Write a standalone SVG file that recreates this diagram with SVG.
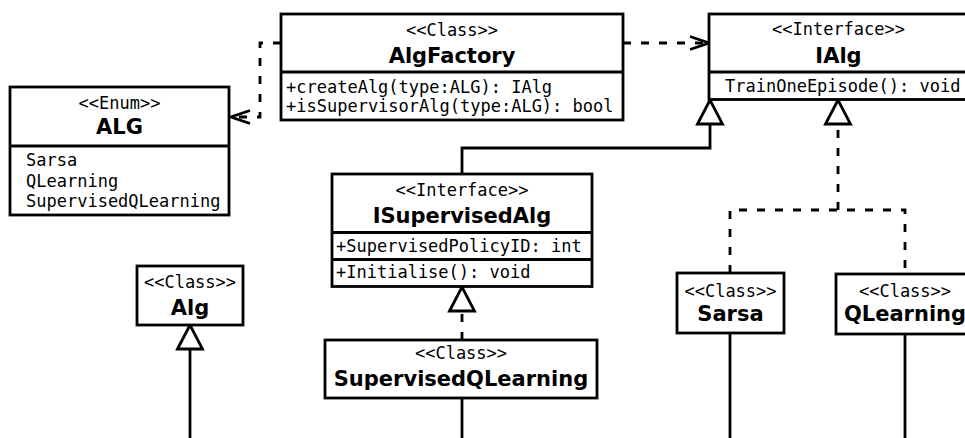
<svg xmlns="http://www.w3.org/2000/svg" width="965" height="438" viewBox="0 0 965 438">
  <style>
    .box { fill: #ffffff; stroke: #000000; stroke-width: 2.8; }
    .div { stroke: #000000; stroke-width: 2.8; fill: none; }
    .st { font-family: "DejaVu Sans Mono", "Liberation Mono", monospace; font-size: 17px; text-anchor: middle; fill: #000; }
    .nm { font-family: "DejaVu Sans", "Liberation Sans", sans-serif; font-weight: bold; font-size: 21px; text-anchor: middle; fill: #000; }
    .mb { font-family: "DejaVu Sans Mono", "Liberation Mono", monospace; font-size: 17px; fill: #000; }
    .solid { fill: none; stroke: #000; stroke-width: 2.8; }
    .dash { fill: none; stroke: #000; stroke-width: 2.8; stroke-dasharray: 8 10; }
    .dep { marker-end: url(#open); }
    .gen { marker-end: url(#tri); }
  </style>
  <defs>
    <!-- open arrowhead for dependencies -->
    <marker id="open" markerUnits="userSpaceOnUse" markerWidth="24" markerHeight="18" viewBox="0 0 24 18" refX="21" refY="9" orient="auto">
      <path d="M2,2.5 L21,9 L2,15.5" fill="none" stroke="#000" stroke-width="2.8" stroke-dasharray="none"/>
    </marker>
    <!-- hollow triangle for generalisation / realisation -->
    <marker id="tri" markerUnits="userSpaceOnUse" markerWidth="30" markerHeight="30" viewBox="0 0 30 30" refX="27" refY="15" orient="auto">
      <path d="M3,2.5 L27,15 L3,27.5 Z" fill="#fff" stroke="#000" stroke-width="2.8" stroke-dasharray="none"/>
    </marker>
  </defs>
  <rect width="965" height="438" fill="#ffffff"/>

  <g id="connectors">
    <!-- AlgFactory uses ALG -->
    <path class="dash dep" d="M281,43 H260 V117 H231"/>
    <!-- AlgFactory creates IAlg -->
    <path class="dash dep" d="M623,43 H709"/>
    <!-- ISupervisedAlg extends IAlg -->
    <path class="solid gen" d="M462,174 V148 H710 V100"/>
    <!-- Sarsa and QLearning implement IAlg -->
    <path class="dash" d="M730,273 V210 H905 V274"/>
    <path class="dash gen" d="M838,210 V100"/>
    <!-- SupervisedQLearning implements ISupervisedAlg -->
    <path class="dash gen" d="M462,340 V287"/>
    <!-- Alg base class -->
    <path class="solid gen" d="M190,438 V325"/>
    <!-- continuing lines below the classes -->
    <path class="solid" d="M462,398 V438"/>
    <path class="solid" d="M730,333 V438"/>
    <path class="solid" d="M905,334 V438"/>
  </g>

  <g id="ALG">
    <rect class="box" x="10" y="87" width="219" height="128"/>
    <line class="div" x1="10" y1="146" x2="229" y2="146"/>
    <text class="st" x="119.5" y="109">&lt;&lt;Enum&gt;&gt;</text>
    <text class="nm" x="119.5" y="134">ALG</text>
    <text class="mb" x="26" y="166">Sarsa</text>
    <text class="mb" x="26" y="186.5">QLearning</text>
    <text class="mb" x="26" y="207">SupervisedQLearning</text>
  </g>

  <g id="AlgFactory">
    <rect class="box" x="281" y="14" width="342" height="106"/>
    <line class="div" x1="281" y1="72" x2="623" y2="72"/>
    <text class="st" x="452" y="35.5">&lt;&lt;Class&gt;&gt;</text>
    <text class="nm" x="452" y="63">AlgFactory</text>
    <text class="mb" x="286" y="92.5">+createAlg(type:ALG): IAlg</text>
    <text class="mb" x="286" y="111.5">+isSupervisorAlg(type:ALG): bool</text>
  </g>

  <g id="IAlg">
    <rect class="box" x="709" y="14" width="259" height="85.5"/>
    <line class="div" x1="709" y1="72" x2="968" y2="72"/>
    <text class="st" x="838.5" y="35">&lt;&lt;Interface&gt;&gt;</text>
    <text class="nm" x="838.5" y="63">IAlg</text>
    <text class="mb" x="725" y="91.5">TrainOneEpisode(): void</text>
  </g>

  <g id="ISupervisedAlg">
    <rect class="box" x="332" y="174" width="260" height="112.5"/>
    <line class="div" x1="332" y1="232.5" x2="592" y2="232.5"/>
    <line class="div" x1="332" y1="259.5" x2="592" y2="259.5"/>
    <text class="st" x="462" y="195.5">&lt;&lt;Interface&gt;&gt;</text>
    <text class="nm" x="462" y="223">ISupervisedAlg</text>
    <text class="mb" x="336" y="251.5">+SupervisedPolicyID: int</text>
    <text class="mb" x="336" y="278">+Initialise(): void</text>
  </g>

  <g id="SupervisedQLearning">
    <rect class="box" x="325" y="340" width="272" height="58"/>
    <text class="st" x="461" y="359">&lt;&lt;Class&gt;&gt;</text>
    <text class="nm" x="461" y="386">SupervisedQLearning</text>
  </g>

  <g id="Alg">
    <rect class="box" x="137" y="266" width="106" height="59"/>
    <text class="st" x="190" y="287.5">&lt;&lt;Class&gt;&gt;</text>
    <text class="nm" x="190" y="315">Alg</text>
  </g>

  <g id="Sarsa">
    <rect class="box" x="677" y="273" width="107" height="60"/>
    <text class="st" x="730.5" y="296.5">&lt;&lt;Class&gt;&gt;</text>
    <text class="nm" x="730.5" y="320.5">Sarsa</text>
  </g>

  <g id="QLearning">
    <rect class="box" x="836" y="274" width="139" height="60"/>
    <text class="st" x="905" y="297">&lt;&lt;Class&gt;&gt;</text>
    <text class="nm" x="905" y="320.5">QLearning</text>
  </g>
</svg>
